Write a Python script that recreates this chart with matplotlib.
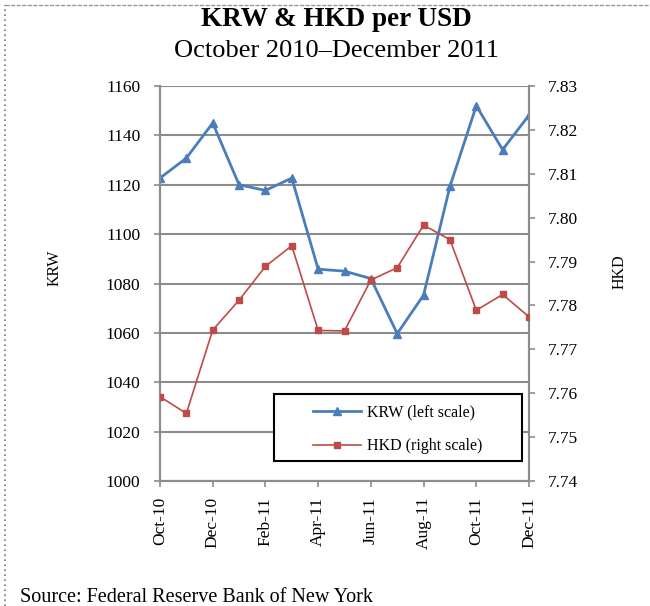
import numpy as np
import matplotlib
matplotlib.rcParams['font.family'] = 'serif'
matplotlib.rcParams['font.serif'] = ['Liberation Serif', 'DejaVu Serif']
import matplotlib.pyplot as plt
from matplotlib.lines import Line2D
from matplotlib.patches import Rectangle

months = ['Oct-10', 'Nov-10', 'Dec-10', 'Jan-11', 'Feb-11', 'Mar-11', 'Apr-11', 'May-11',
          'Jun-11', 'Jul-11', 'Aug-11', 'Sep-11', 'Oct-11', 'Nov-11', 'Dec-11']
krw = [1122.7, 1130.8, 1145.0, 1120.0, 1117.7, 1122.7, 1085.8, 1085.0,
       1082.0, 1059.7, 1075.3, 1119.3, 1152.0, 1134.2, 1148.2]
hkd = [7.7592, 7.7554, 7.7744, 7.7812, 7.7889, 7.7936, 7.7743, 7.7742,
       7.7858, 7.7886, 7.7983, 7.7950, 7.7789, 7.7825, 7.7774]
krw_ticks = [1000, 1020, 1040, 1060, 1080, 1100, 1120, 1140, 1160]
hkd_ticks = [7.74, 7.75, 7.76, 7.77, 7.78, 7.79, 7.80, 7.81, 7.82, 7.83]

BLUE = '#4A7EBB'
RED = '#BE4B48'
GRAY = '#8c8c8c'

fig = plt.figure(figsize=(6.5, 6.06), dpi=100)
ax = fig.add_axes([160/650, 1 - 481/606, 369/650, 395/606])
ax2 = ax.twinx()

x = np.arange(len(months))
l1, = ax.plot(x, krw, color=BLUE, lw=2.0, marker='^', ms=5.5, label='KRW (left scale)', zorder=3)
l2, = ax2.plot(x, hkd, color=RED, lw=1.2, marker='s', ms=5, label='HKD (right scale)', zorder=3)

ax.set_xlim(0, len(months) - 1)
ax.set_ylim(1000, 1160)
ax2.set_ylim(7.74, 7.83)
ax.set_yticks(krw_ticks)
ax.set_yticklabels([str(v) for v in krw_ticks])
ax2.set_yticks(hkd_ticks)
ax2.set_yticklabels(['{:.2f}'.format(v) for v in hkd_ticks])
ax.set_xticks(x[::2])
ax.set_xticklabels(months[::2], rotation=90)

ax.yaxis.grid(True, color=GRAY, lw=1.5)
ax.set_axisbelow(True)
for a in (ax, ax2):
    for s in a.spines.values():
        s.set_color(GRAY)
        s.set_linewidth(1.5)
    a.spines['top'].set_visible(False)
    a.tick_params(direction='out', length=4, width=1.2, color=GRAY, labelsize=12.5)
ax.tick_params(axis='y', pad=10)
ax.tick_params(axis='x', pad=7.5)
ax2.tick_params(axis='y', pad=9.5)

# legend box
ax2.add_patch(Rectangle((0.309, 0.051), 0.672, 0.169, transform=ax.transAxes,
                        fill=True, facecolor='white', edgecolor='black', lw=1.5, zorder=4))
leg = ax2.legend(handles=[l1, l2], loc='center', bbox_to_anchor=(0.645, 0.13),
                 bbox_transform=ax.transAxes, frameon=False, fontsize=11.5,
                 handlelength=3.0, labelspacing=1.1, handletextpad=0.4)
leg.set_zorder(5)

fig.text(0.517, 1 - 20/606, 'KRW & HKD per USD', ha='center', va='center', fontsize=19.5, fontweight='bold')
fig.text(0.518, 1 - 51/606, 'October 2010\u2013December 2011', ha='center', va='center', fontsize=19)
fig.text(55/650, 1 - 268/606, 'KRW', rotation=90, ha='center', va='center', fontsize=11.5)
fig.text(620/650, 1 - 272/606, 'HKD', rotation=90, ha='center', va='center', fontsize=11.5)
fig.text(20/650, 1 - 597/606, 'Source: Federal Reserve Bank of New York', ha='left', va='center', fontsize=14.5)

# dotted frame on top and left
fig.add_artist(Line2D([5/650, 1], [1 - 5/606, 1 - 5/606], color='#999999', lw=1, ls=(0, (3, 1)),
                      transform=fig.transFigure))
fig.add_artist(Line2D([5/650, 5/650], [0, 1 - 5/606], color='#777777', lw=1.2, ls=(0, (1, 2)),
                      transform=fig.transFigure))

fig.savefig('out.png', dpi=100)
